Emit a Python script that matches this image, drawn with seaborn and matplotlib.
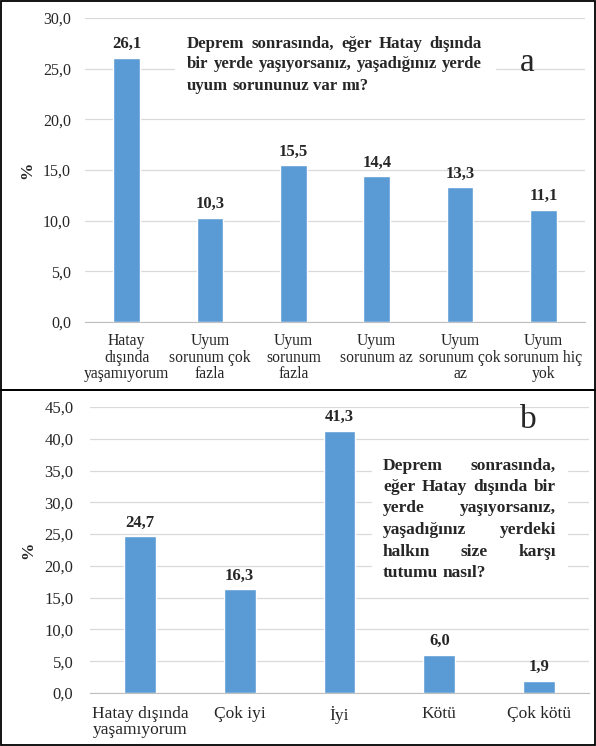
import matplotlib
matplotlib.use("Agg")
import matplotlib.pyplot as plt
import seaborn as sns
from matplotlib.patches import Rectangle
from matplotlib.ticker import FuncFormatter

# panel a: uyum sorunu
cats_a = ["Hatay\ndışında\nyaşamıyorum", "Uyum\nsorunum çok\nfazla", "Uyum\nsorunum\nfazla",
          "Uyum\nsorunum az", "Uyum\nsorunum çok\naz", "Uyum\nsorunum hiç\nyok"]
vals_a = [26.1, 10.3, 15.5, 14.4, 13.3, 11.1]
q_a = ["Deprem sonrasında, eğer Hatay dışında",
       "bir yerde yaşıyorsanız, yaşadığınız yerde",
       "uyum sorununuz var mı?"]

# panel b: halkın tutumu
cats_b = ["Hatay dışında\nyaşamıyorum", "Çok iyi", "İyi", "Kötü", "Çok kötü"]
vals_b = [24.7, 16.3, 41.3, 6.0, 1.9]
q_b = ["Deprem sonrasında,", "eğer Hatay dışında bir", "yerde yaşıyorsanız,",
       "yaşadığınız yerdeki", "halkın size karşı", "tutumu nasıl?"]

W, H = 596, 746
BLUE = "#5B9BD5"
SERIF = "Liberation Serif"

sns.set_style("white")
plt.rcParams["font.family"] = [SERIF, "DejaVu Serif"]

fig = plt.figure(figsize=(W / 100, H / 100), dpi=100)

comma = FuncFormatter(lambda v, p: f"{v:.1f}".replace(".", ","))


def draw_panel(ax, cats, vals, ymax, tick_fs, cat_fs, pad, xpad):
    sns.barplot(x=list(range(len(cats))), y=vals, color=BLUE, width=0.32,
                saturation=1, ax=ax, zorder=3)
    ax.set_xlim(-0.5, len(cats) - 0.5)
    ax.set_ylim(0, ymax)
    ax.set_yticks(range(0, ymax + 1, 5))
    ax.yaxis.set_major_formatter(comma)
    ax.set_xticks(range(len(cats)))
    ax.set_xticklabels(cats, fontsize=cat_fs, linespacing=1.05)
    ax.tick_params(axis="y", length=0, labelsize=tick_fs, pad=pad)
    ax.tick_params(axis="x", length=0, pad=xpad)
    ax.grid(axis="y", color="#D9D9D9", lw=0.9, zorder=0)
    for s in ["top", "right", "left"]:
        ax.spines[s].set_visible(False)
    ax.spines["bottom"].set_color("#BFBFBF")
    ax.set_xlabel("")
    ax.set_ylabel("%", fontsize=12.5, fontweight="bold", labelpad=6)
    for i, v in enumerate(vals):
        ax.annotate(f"{v:.1f}".replace(".", ","), (i, v), xytext=(0, 4),
                    textcoords="offset points", ha="center", va="bottom",
                    fontsize=12, fontweight="bold")


ax_a = fig.add_axes([85 / W, 1 - 322 / H, 500 / W, 304 / H])
draw_panel(ax_a, cats_a, vals_a, 30, 11.5, 11.3, 10, 8)
ax_b = fig.add_axes([90 / W, 1 - 693 / H, 499 / W, 286 / H])
draw_panel(ax_b, cats_b, vals_b, 45, 12, 12.5, 12, 9)

renderer = fig.canvas.get_renderer()


def word_width(s, fs):
    t = fig.text(0, 0, s, fontsize=fs, fontweight="bold")
    w = t.get_window_extent(renderer).width
    t.remove()
    return w


def justified(lines, left, right, baselines, fs):
    # word-by-word placement so the block is justified like the source
    space = word_width("a a", fs) - word_width("aa", fs)
    for k, (line, yb) in enumerate(zip(lines, baselines)):
        words = line.split(" ")
        texts = [fig.text(0, 1 - yb / H, w, fontsize=fs, fontweight="bold",
                          va="baseline", ha="left", zorder=5) for w in words]
        widths = [t.get_window_extent(renderer).width for t in texts]
        if k == len(lines) - 1 or len(words) == 1:
            gap = space
        else:
            gap = max((right - left - sum(widths)) / (len(words) - 1), space * 0.8)
        x = left
        for t, w in zip(texts, widths):
            t.set_x(x / W)
            x += w + gap


# white boxes behind question text (gridlines are interrupted there)
fig.add_artist(Rectangle((175 / W, 1 - 97 / H), 320 / W, 67 / H,
                         transform=fig.transFigure, color="white", zorder=4))
fig.add_artist(Rectangle((372 / W, 1 - 588 / H), 195 / W, 136 / H,
                         transform=fig.transFigure, color="white", zorder=4))

justified(q_a, 187, 482, [47.5, 68.5, 89.5], 12.1)
justified(q_b, 383, 556, [469.5, 491, 512.5, 534, 555.5, 577], 12.5)

fig.text(527 / W, 1 - 63 / H, "a", fontsize=24, ha="center", va="center", zorder=5)
fig.text(528 / W, 1 - 420 / H, "b", fontsize=24, ha="center", va="center", zorder=5)

# panel frames
fig.add_artist(Rectangle((1 / W, 1 - 390 / H), (W - 2) / W, 389 / H,
                         transform=fig.transFigure, fill=False, ec="black", lw=1.3))
fig.add_artist(Rectangle((1 / W, 1 / H), (W - 2) / W, (H - 391) / H,
                         transform=fig.transFigure, fill=False, ec="black", lw=1.3))

fig.savefig("out.png", dpi=100)
